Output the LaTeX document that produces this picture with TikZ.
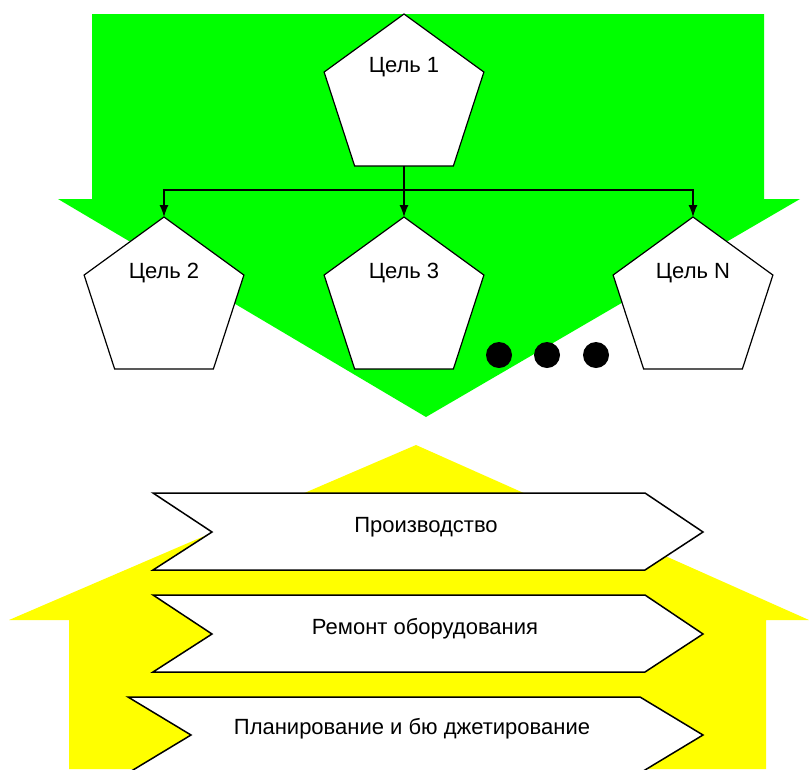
\documentclass[tikz,border=0pt]{standalone}
\usepackage{fontspec}
\setmainfont{Liberation Sans}
\usetikzlibrary{shapes.geometric,arrows.meta}
\tikzset{>={Latex[length=12pt,width=9pt]}}
\definecolor{arrgreen}{RGB}{0,255,0}
\definecolor{arryellow}{RGB}{255,255,0}

\begin{document}
\begin{tikzpicture}[x=1pt,y=-1pt,
    goal/.style={draw,fill=white,line width=1.2pt,regular polygon,regular polygon sides=5,
      minimum size=168pt,inner sep=0pt,outer sep=0pt},
    lbl/.style={font=\fontsize{22}{26}\selectfont,anchor=base},
    band/.style={draw,fill=white,line width=1.5pt,line join=miter}]

  \useasboundingbox (0,0) rectangle (809,769);

  % Green arrow (goals)
  \fill[arrgreen] (92,14) -- (764,14) -- (764,199) -- (800,199) -- (426,417) -- (58,199) -- (92,199) -- cycle;

  % Yellow arrow (processes)
  \fill[arryellow] (416,445) -- (809,620) -- (766,620) -- (766,769) -- (69,769) -- (69,620) -- (9,620) -- cycle;

  % Goal pentagons
  \node[goal] (g1) at (404,98) {};
  \node[goal] (g2) at (164,301) {};
  \node[goal] (g3) at (404,301) {};
  \node[goal] (gn) at (693,301) {};

  \node[lbl] (t1) at ([yshift=-58pt]g1.corner 1) {Цель 1};
  \node[lbl] (t2) at ([yshift=-61pt]g2.corner 1) {Цель 2};
  \node[lbl] (t3) at ([yshift=-61pt]g3.corner 1) {Цель 3};
  \node[lbl] (tn) at ([yshift=-61pt]gn.corner 1) {Цель N};

  % Connectors
  \coordinate (bus) at (404,190);
  \draw[line width=1.3pt] (g1.south) -- (bus);
  \draw[line width=1.3pt,->] (bus) -| (g2.corner 1);
  \draw[line width=1.3pt,->] (bus) -- (g3.corner 1);
  \draw[line width=1.3pt,->] (bus) -| (gn.corner 1);

  % Dots
  \foreach \x in {499,547,596} {
    \fill (\x,355) circle (13pt);
  }

  % Process bands
  \draw[band] (153,493) -- (645,493) -- (703,532) -- (645,570) -- (153,570) -- (212,532) -- cycle;
  \draw[band] (153,595) -- (645,595) -- (703,634) -- (645,672) -- (153,672) -- (212,634) -- cycle;
  \draw[band] (128,697) -- (640,697) -- (703,735) -- (640,773) -- (128,773) -- (191,735) -- cycle;

  \node[lbl] (prod) at (426,532) {Производство};
  \node[lbl] (rem) at (425,634) {Ремонт оборудования};
  \node[lbl] (plan) at (412,734) {Планирование и бю джетирование};

\end{tikzpicture}
\end{document}
